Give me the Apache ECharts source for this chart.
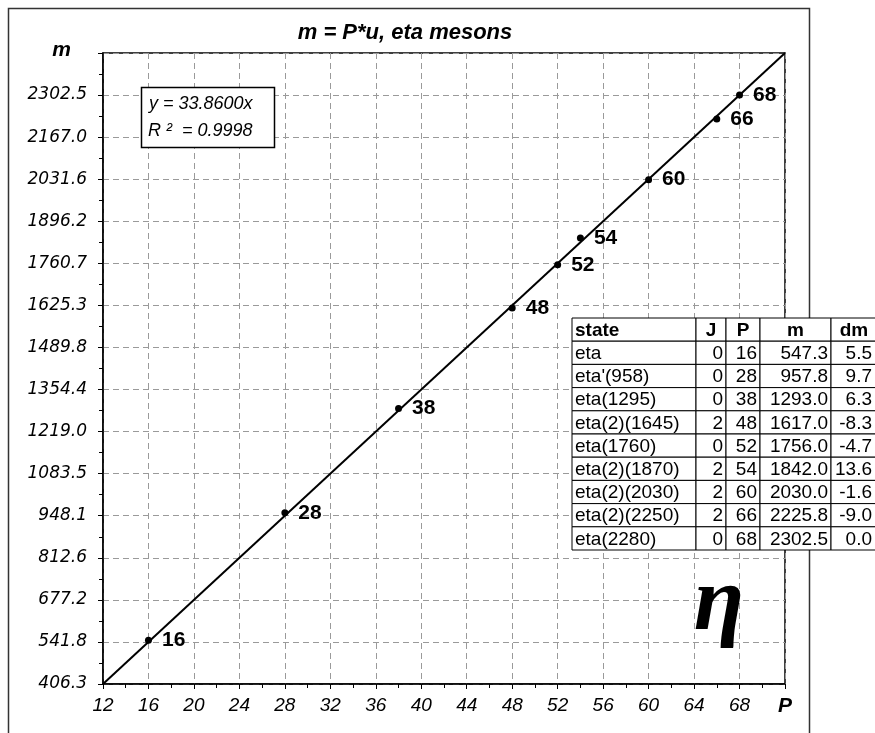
<!DOCTYPE html>
<html><head><meta charset="utf-8">
<script src="https://cdn.jsdelivr.net/npm/echarts/dist/echarts.min.js"></script>
<style>html,body{margin:0;padding:0;background:#fff}#c{width:875px;height:733px}</style>
</head><body><div id="c"></div>
<script>
// ---- data ----
const states = ['eta', "eta'(958)", 'eta(1295)', 'eta(2)(1645)', 'eta(1760)', 'eta(2)(1870)', 'eta(2)(2030)', 'eta(2)(2250)', 'eta(2280)'];
const J = [0, 0, 0, 2, 0, 2, 2, 2, 0];
const P = [16, 28, 38, 48, 52, 54, 60, 66, 68];
const m = [547.3, 957.8, 1293.0, 1617.0, 1756.0, 1842.0, 2030.0, 2225.8, 2302.5];
const dm = ['5.5', '9.7', '6.3', '-8.3', '-4.7', '13.6', '-1.6', '-9.0', '0.0'];
const tableHeader = ['state', 'J', 'P', 'm', 'dm'];
const slope = 33.86;
const r2 = '0.9998';
const xTickLabels = ['12','16','20','24','28','32','36','40','44','48','52','56','60','64','68','P'];
const yTickLabels = ['406.3','541.8','677.2','812.6','948.1','1083.5','1219.0','1354.4','1489.8','1625.3','1760.7','1896.2','2031.6','2167.0','2302.5','m'];
const xMin = 12, xMax = 72, xStep = 4;
const titleText = 'm = P*u, eta mesons';

// ---- chart ----
const chart = echarts.init(document.getElementById('c'));
const SANS = '"Liberation Sans", Arial, Helvetica, sans-serif';
const yMin = +(xMin * slope).toFixed(2), yMax = +(xMax * slope).toFixed(2), yStep = +(xStep * slope).toFixed(2);

// table graphic built from arrays
const colX = [0, 124, 154, 188, 259];
const colW = [124, 30, 34, 71, 60];
const textRight = [0, 27, 31, 68, 41];
const headerCenter = [0, 15, 17, 35.5, 23];
const rowH = 23.2;
const tableChildren = [];
const rows = [tableHeader].concat(states.map((s, i) => [s, String(J[i]), String(P[i]), m[i].toFixed(1), dm[i]]));
rows.forEach((row, r) => {
  row.forEach((cell, c) => {
    tableChildren.push({
      type: 'rect', shape: { x: colX[c], y: r * rowH, width: colW[c], height: rowH },
      style: { fill: '#fff', stroke: '#000', lineWidth: 1 }, z: 100
    });
    let align, tx;
    if (c === 0) { align = 'left'; tx = colX[c] + 3; }
    else if (r === 0) { align = 'center'; tx = colX[c] + headerCenter[c]; }
    else { align = 'right'; tx = colX[c] + textRight[c]; }
    tableChildren.push({
      type: 'text', x: tx, y: r * rowH + rowH / 2 + 1, z: 101,
      style: { text: cell, fill: '#000', font: (r === 0 ? 'bold ' : '') + '19px ' + SANS, textAlign: align, textVerticalAlign: 'middle' }
    });
  });
});

const option = {
  animation: false,
  backgroundColor: '#fff',
  title: {
    text: titleText, left: 400, top: 17, textAlign: 'center',
    textStyle: { fontFamily: SANS, fontSize: 22, fontWeight: 'bold', fontStyle: 'italic', color: '#000' }
  },
  grid: { left: 103, top: 53, right: 90, bottom: 49, show: true, borderColor: '#000', borderWidth: 1.5, backgroundColor: 'transparent' },
  xAxis: {
    type: 'value', min: xMin, max: xMax, interval: xStep,
    axisLine: { show: true, onZero: false, lineStyle: { color: '#000', width: 1.5 } },
    axisTick: { show: true, length: 5, lineStyle: { color: '#000' } },
    minorTick: { show: true, splitNumber: 2, length: 4, lineStyle: { color: '#000' } },
    splitLine: { show: true, lineStyle: { color: '#9a9a9a', type: [6, 4], width: 1 } },
    axisLabel: {
      margin: 12, color: '#000', fontFamily: SANS, fontSize: 19, fontStyle: 'italic',
      showMaxLabel: true, showMinLabel: true,
      formatter: (v, i) => i === xTickLabels.length - 1 ? '{p|' + xTickLabels[i] + '}' : xTickLabels[i],
      rich: { p: { fontFamily: SANS, fontSize: 21, fontWeight: 'bold', fontStyle: 'italic', color: '#000' } }
    }
  },
  yAxis: {
    type: 'value', min: yMin, max: yMax, interval: yStep,
    axisLine: { show: true, onZero: false, lineStyle: { color: '#000', width: 1.5 } },
    axisTick: { show: true, length: 5, lineStyle: { color: '#000' } },
    minorTick: { show: true, splitNumber: 2, length: 4, lineStyle: { color: '#000' } },
    splitLine: { show: true, lineStyle: { color: '#9a9a9a', type: [6, 4], width: 1 } },
    axisLabel: {
      margin: 16, color: '#000', fontFamily: '"DejaVu Sans", sans-serif', fontSize: 17, fontStyle: 'italic',
      showMaxLabel: true, showMinLabel: true,
      formatter: (v, i) => i === yTickLabels.length - 1 ? '{m|' + yTickLabels[i] + '}' : yTickLabels[i],
      rich: { m: { fontFamily: SANS, fontSize: 21, fontWeight: 'bold', fontStyle: 'italic', color: '#000', padding: [0, 16, 6, 0] } }
    }
  },
  series: [
    {
      type: 'line', data: [[xMin, xMin * slope], [xMax, xMax * slope]], symbol: 'none',
      lineStyle: { color: '#000', width: 2 }, silent: true, z: 2
    },
    {
      type: 'scatter', data: P.map((p, i) => [p, m[i]]), symbolSize: 7,
      itemStyle: { color: '#000', opacity: 1 }, z: 3,
      label: {
        show: true, position: 'right', distance: 10, formatter: (p) => String(P[p.dataIndex]),
        fontFamily: SANS, fontSize: 21, fontWeight: 'bold', color: '#000', opacity: 1, textBorderWidth: 0
      }
    }
  ],
  graphic: [
    { type: 'rect', shape: { x: 8.5, y: 8.5, width: 801, height: 760 }, style: { fill: 'none', stroke: '#333', lineWidth: 1.5 }, z: 1, silent: true },
    { type: 'rect', shape: { x: 141.5, y: 87.5, width: 133, height: 60 }, style: { fill: '#fff', stroke: '#000', lineWidth: 1.5 }, z: 50 },
    { type: 'text', x: 149, y: 104, z: 51, style: { text: 'y = ' + slope.toFixed(4) + 'x', font: 'italic 18px ' + SANS, fill: '#000', textVerticalAlign: 'middle' } },
    { type: 'text', x: 148, y: 131, z: 51, style: { text: 'R \u00b2  = ' + r2, font: 'italic 18px ' + SANS, fill: '#000', textVerticalAlign: 'middle' } },
    { type: 'text', x: 719, y: 605, z: 51, style: { text: '\u03b7', font: 'italic bold 92px "Liberation Serif", "DejaVu Serif", serif', fill: '#000', textAlign: 'center', textVerticalAlign: 'middle' } },
    { type: 'group', x: 572, y: 318, z: 100, children: tableChildren }
  ]
};
chart.setOption(option);
</script>
</body></html>
